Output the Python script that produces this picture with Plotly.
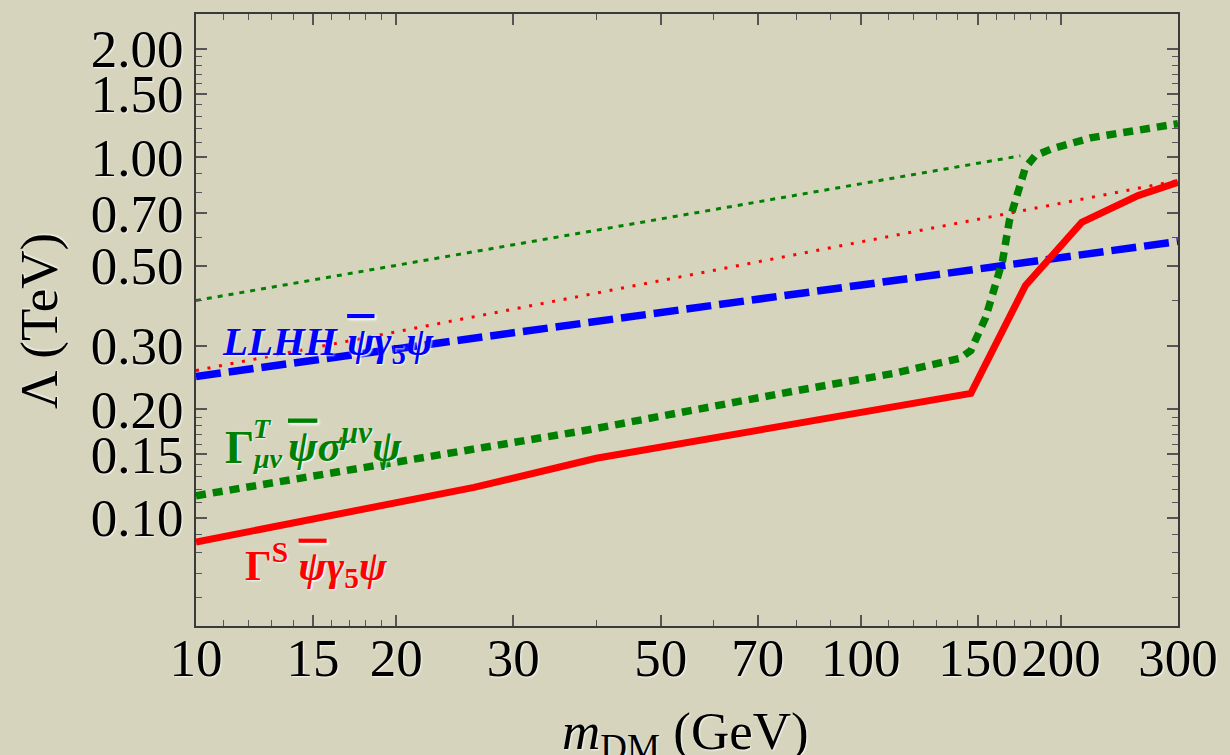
import plotly.graph_objects as go

# ---------------- data ----------------
# Gamma^S psibar gamma5 psi  (red, solid)
m_S = [10, 15, 26.2, 40, 79.4, 146.4, 176.9, 214.9, 261.2, 300]
L_S = [0.0855, 0.0989, 0.1213, 0.1461, 0.182, 0.2212, 0.4407, 0.660, 0.783, 0.852]

# Gamma^T psibar sigma psi  (green, thick dashed)
m_T = [10, 19.5, 38.6, 79.4, 112, 140.9, 146.4, 154.1, 159.5, 163.4, 167.3,
       172, 176.8, 183, 193.9, 222.4, 264.1, 300]
L_T = [0.115, 0.1414, 0.1747, 0.2245, 0.2513, 0.2765, 0.291, 0.3593, 0.4352,
       0.517, 0.6676, 0.8087, 0.936, 1.011, 1.057, 1.134, 1.201, 1.24]

# LLHH psibar gamma5 psi  (blue, long dashed)
m_LL = [10, 30, 100, 300]
L_LL = [0.2465, 0.3257, 0.4418, 0.584]

# thin dotted red
m_Sd = [10, 30, 100, 300]
L_Sd = [0.256, 0.379, 0.582, 0.862]

# thin dashed green
m_Td = [10, 50, 173.8]
L_Td = [0.4005, 0.675, 1.01]

x_ticks = [10, 15, 20, 30, 50, 70, 100, 150, 200, 300]
x_minor = [11, 12, 13, 14, 16, 17, 18, 19, 40, 60, 80, 90,
           110, 120, 130, 140, 160, 170, 180, 190]
y_ticks = [0.10, 0.15, 0.20, 0.30, 0.50, 0.70, 1.00, 1.50, 2.00]
y_minor = [0.06, 0.07, 0.08, 0.09, 0.11, 0.12, 0.13, 0.14, 0.16, 0.17,
           0.18, 0.19, 0.4, 0.6, 0.8, 0.9, 1.1, 1.2, 1.3, 1.4, 1.6,
           1.7, 1.8, 1.9]

# ---------------- styling ----------------
W, H = 1230, 755
ML, MR, MT, MB = 196, 43, 13, 129
PW, PH = W - ML - MR, H - MT - MB
BG = "#d6d4bc"
FONT = "Liberation Serif"
RED, GREEN, BLUE = "#ff0000", "#008000", "#0000ff"
GLOW = "1px 1px 2px rgba(255,255,255,0.85)"


def xp(px):
    return (px - ML) / PW


def yp(py):
    return (H - MB - py) / PH


fig = go.Figure()
fig.add_trace(go.Scatter(x=m_Sd, y=L_Sd, mode="lines",
                         line=dict(color=RED, width=3, dash="3px,8.7px")))
fig.add_trace(go.Scatter(x=m_Td, y=L_Td, mode="lines",
                         line=dict(color=GREEN, width=3, dash="5px,6px")))
fig.add_trace(go.Scatter(x=m_LL, y=L_LL, mode="lines",
                         line=dict(color=BLUE, width=7.5, dash="25px,8px")))
fig.add_trace(go.Scatter(x=m_S, y=L_S, mode="lines",
                         line=dict(color=RED, width=7)))
fig.add_trace(go.Scatter(x=m_T, y=L_T, mode="lines",
                         line=dict(color=GREEN, width=7.5, dash="10px,7px")))

axis_common = dict(
    type="log", showgrid=False, zeroline=False,
    showline=True, linecolor="#3a3a3a", linewidth=2,
    mirror="ticks", ticks="inside", ticklen=11, tickwidth=1.5,
    tickcolor="#555555",
    tickfont=dict(family=FONT, size=53, color="black", shadow=GLOW),
)

fig.update_xaxes(
    **axis_common,
    range=[1, 2.4771],
    tickmode="array", tickvals=x_ticks, ticktext=[str(v) for v in x_ticks],
    ticklabelstandoff=-16,
    minor=dict(tickmode="array", tickvals=x_minor, ticks="inside",
               ticklen=6, tickwidth=1.2, tickcolor="#555555"),
)
fig.update_yaxes(
    **axis_common,
    range=[-1.30103, 0.39794],
    tickmode="array", tickvals=y_ticks,
    ticktext=["%.2f" % v for v in y_ticks],
    ticklabelstandoff=0,
    minor=dict(tickmode="array", tickvals=y_minor, ticks="inside",
               ticklen=6, tickwidth=1.2, tickcolor="#555555"),
)

OV = '<span style="text-decoration:overline"><i>ψ</i></span>'
ann = []


def add(text, px, py, size, color, xanchor="left", yanchor="middle", angle=0):
    ann.append(dict(text=text, xref="paper", yref="paper", x=xp(px), y=yp(py),
                    xanchor=xanchor, yanchor=yanchor, showarrow=False,
                    textangle=angle,
                    font=dict(family=FONT, size=size, color=color, shadow=GLOW)))


# curve labels
add("<b><i>LLHH</i> " + OV + "<i>γ</i><sub>5</sub><i>ψ</i></b>", 220, 344, 41, BLUE)
add("<b>Γ</b>", 223, 447, 46, GREEN)
add("<b><i>T</i></b>", 251, 428, 28, GREEN)
add("<b><i>μν</i></b>", 250, 458, 28, GREEN)
add("<b>" + OV + "<i>σ</i><sup><i>μν</i></sup><i>ψ</i></b>", 287, 443, 44, GREEN)
add("<b>Γ<sup>S</sup> " + OV + "<i>γ</i><sub>5</sub><i>ψ</i></b>", 243, 565, 42, RED)

# axis titles
add("Λ (TeV)", 38, 320, 53, "black", xanchor="center", angle=-90)
add("<i>m</i><sub>DM</sub> (GeV)", 690, 735, 53, "black", xanchor="center")

fig.update_layout(
    width=W, height=H,
    margin=dict(l=ML, r=MR, t=MT, b=MB),
    paper_bgcolor=BG, plot_bgcolor=BG,
    showlegend=False,
    annotations=ann,
)

fig.write_html("out.html")
